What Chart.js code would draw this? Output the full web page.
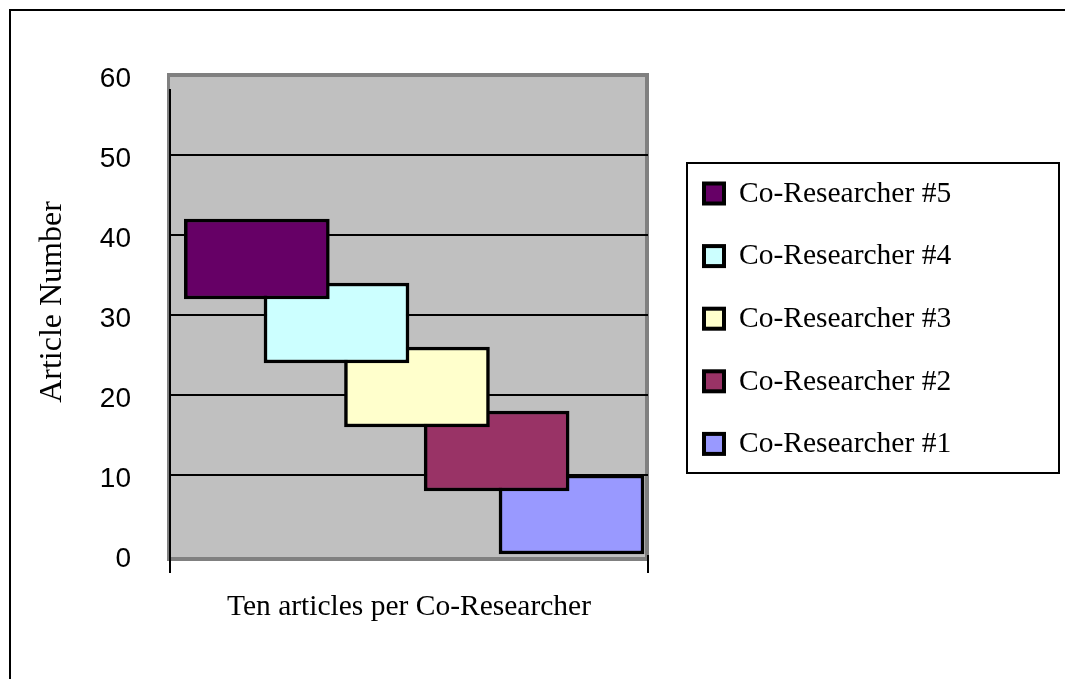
<!DOCTYPE html>
<html><head><meta charset="utf-8">
<script src="https://cdn.jsdelivr.net/npm/chart.js@4.4.1/dist/chart.umd.min.js"></script>
<style>html,body{margin:0;padding:0;background:#fff;overflow:hidden}#wrap{width:1065px;height:679px;position:relative}</style>
</head><body><div id="wrap"><canvas id="c" width="1065" height="679"></canvas></div>
<script>
// ---- data ----
const seriesNames = ['Co-Researcher #5','Co-Researcher #4','Co-Researcher #3','Co-Researcher #2','Co-Researcher #1'];
const articleStart = [32, 24, 16, 8, 0];
const articleEnd   = [42, 34, 26, 18, 10];
const columnSlots  = [1.09, 2.09, 3.1, 4.1, 5.04];
const yTicks = [0, 10, 20, 30, 40, 50, 60];
const xTitle = 'Ten articles per Co-Researcher';
const yTitle = 'Article Number';
// ---- styles ----
const seriesColors = ['#660066', '#CCFFFF', '#FFFFCC', '#993366', '#9999FF'];
const SERIF = '"Liberation Serif", "Times New Roman", serif';
const SANS = '"Liberation Sans", Arial, sans-serif';

const datasets = seriesNames.map((name, i) => ({
  label: name,
  data: [{ x: columnSlots[i], y: [articleStart[i], articleEnd[i]] }],
  backgroundColor: seriesColors[i],
  borderColor: '#000',
  borderWidth: 3.5,
  borderSkipped: false,
  barThickness: 145,
  grouped: false
}));

const framePlugin = {
  id: 'frame',
  beforeDraw(chart) {
    const ctx = chart.ctx, ca = chart.chartArea;
    ctx.save();
    ctx.fillStyle = '#fff';
    ctx.fillRect(0, 0, chart.width, chart.height);
    // outer chart border (cropped at right/bottom)
    ctx.strokeStyle = '#000';
    ctx.lineWidth = 2;
    ctx.strokeRect(10, 10, chart.width + 20, chart.height + 20);
    // plot walls
    ctx.fillStyle = '#808080';
    ctx.fillRect(ca.left - 3, ca.top - 2, ca.right - ca.left + 4, ca.bottom - ca.top + 8);
    ctx.fillStyle = '#C0C0C0';
    ctx.fillRect(ca.left, ca.top + 2, ca.right - ca.left - 3, ca.bottom - ca.top);
    ctx.restore();
  },
  beforeDatasetsDraw(chart) {
    const ctx = chart.ctx, ca = chart.chartArea;
    ctx.save();
    ctx.strokeStyle = '#000';
    ctx.lineWidth = 2;
    ctx.beginPath();
    ctx.moveTo(ca.left, ca.top + 14);
    ctx.lineTo(ca.left, ca.bottom);
    ctx.stroke();
    ctx.restore();
  },
  afterDraw(chart) {
    const ctx = chart.ctx;
    ctx.save();
    // y axis title
    ctx.fillStyle = '#000';
    ctx.font = '32px ' + SERIF;
    ctx.textAlign = 'center';
    ctx.textBaseline = 'middle';
    ctx.translate(52.5, 302);
    ctx.rotate(-Math.PI / 2);
    ctx.fillText(yTitle, 0, 0);
    ctx.restore();
    // legend
    ctx.save();
    ctx.strokeStyle = '#000';
    ctx.lineWidth = 2;
    ctx.strokeRect(687, 163, 372, 310);
    ctx.font = '29.5px ' + SERIF;
    ctx.textAlign = 'left';
    ctx.textBaseline = 'middle';
    chart.data.datasets.forEach((ds, i) => {
      const cy = 193.5 + i * 62.6;
      ctx.fillStyle = ds.backgroundColor;
      ctx.fillRect(704, cy - 10, 20, 20);
      ctx.lineWidth = 4;
      ctx.strokeStyle = '#000';
      ctx.strokeRect(704, cy - 10, 20, 20);
      ctx.fillStyle = '#000';
      ctx.fillText(ds.label, 739, cy + 0.5);
    });
    ctx.restore();
  }
};

new Chart(document.getElementById('c'), {
  type: 'bar',
  data: { datasets },
  plugins: [framePlugin],
  options: {
    responsive: false,
    animation: false,
    devicePixelRatio: 1,
    layout: { padding: { top: 75, right: 417, left: 0, bottom: 0 } },
    plugins: { legend: { display: false }, tooltip: { enabled: false }, title: { display: false } },
    scales: {
      x: {
        type: 'linear',
        offset: false,
        min: 0, max: 6,
        afterBuildTicks: s => { s.ticks = [{ value: 0 }, { value: 6 }]; },
        afterFit: s => { s.height = 124; },
        ticks: { callback: () => '', padding: 0 },
        grid: { offset: false, drawOnChartArea: false, drawTicks: true, tickLength: 18, color: '#000', lineWidth: 2 },
        border: { display: false },
        title: {
          display: true, text: xTitle, color: '#000',
          font: { family: SERIF, size: 29.5 },
          padding: { top: 0, bottom: 54 }
        }
      },
      y: {
        type: 'linear',
        min: 0, max: 60,
        afterBuildTicks: s => { s.ticks = yTicks.map(v => ({ value: v })); },
        afterFit: s => { s.width = 170; },
        ticks: { color: '#000', font: { family: SANS, size: 28 }, padding: 39, labelOffset: 4.5 },
        grid: {
          drawTicks: false,
          lineWidth: 2,
          color: c => (c.tick && c.tick.value > 0 && c.tick.value < 60) ? '#000' : 'rgba(0,0,0,0)'
        },
        border: { display: false }
      }
    }
  }
});
</script></body></html>
